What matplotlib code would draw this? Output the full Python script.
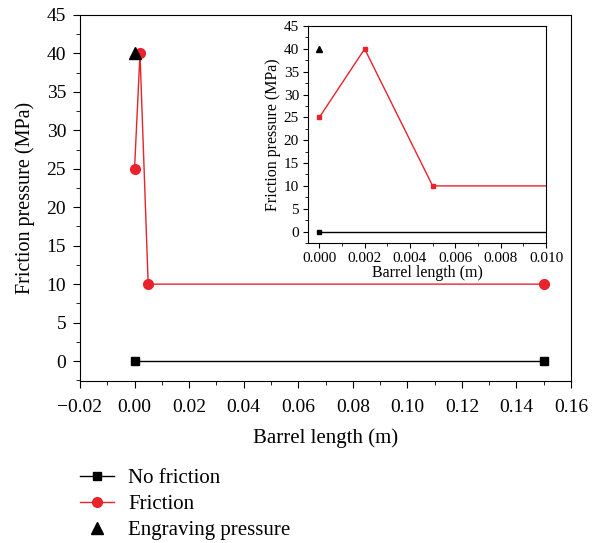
import matplotlib
matplotlib.use("Agg")
import matplotlib.pyplot as plt
from matplotlib.ticker import MultipleLocator, AutoMinorLocator

plt.rcParams['font.family'] = ['Liberation Serif', 'DejaVu Serif']

# data
nofric_x = [0.0, 0.15]
nofric_y = [0, 0]
fric_x = [0.0, 0.002, 0.005, 0.15]
fric_y = [25, 40, 10, 10]
engr_x = [0.0]
engr_y = [40]

RED = '#e8232b'

fig = plt.figure(figsize=(6, 5.43), dpi=100)
ax = fig.add_axes([0.1333, 0.2983, 0.8184, 0.6741])

l1, = ax.plot(nofric_x, nofric_y, color='black', lw=1, marker='s', ms=6, label='No friction')
l2, = ax.plot(fric_x, fric_y, color=RED, lw=1, marker='o', ms=7, label='Friction')
l3, = ax.plot(engr_x, engr_y, color='black', lw=0, marker='^', ms=8, label='Engraving pressure')

ax.set_xlim(-0.02, 0.16)
ax.set_ylim(-2.6, 45)
ax.xaxis.set_major_locator(MultipleLocator(0.02))
ax.yaxis.set_major_locator(MultipleLocator(5))
ax.xaxis.set_minor_locator(AutoMinorLocator(2))
ax.yaxis.set_minor_locator(AutoMinorLocator(2))
ax.xaxis.set_major_formatter(plt.FuncFormatter(lambda v, p: f'{v:.2f}'.replace('-', '\u2212')))
ax.tick_params(which='both', direction='out', labelsize=14, top=False, right=False)
ax.tick_params(axis='x', pad=8)
ax.tick_params(axis='y', pad=5)
ax.tick_params(which='major', length=5)
ax.tick_params(which='minor', length=3)
ax.set_xlabel('Barrel length (m)', fontsize=15, labelpad=9)
ax.set_ylabel('Friction pressure (MPa)', fontsize=14.5, labelpad=8)

# inset
ins = fig.add_axes([0.5133, 0.5525, 0.3967, 0.3995])
ins.plot(nofric_x, nofric_y, color='black', lw=1, marker='s', ms=3.5)
ins.plot(fric_x, fric_y, color=RED, lw=1, marker='s', ms=3.5)
ins.plot(engr_x, engr_y, color='black', lw=0, marker='^', ms=4)
ins.set_xlim(-0.0005, 0.010)
ins.set_ylim(-2.5, 45)
ins.xaxis.set_major_locator(MultipleLocator(0.002))
ins.yaxis.set_major_locator(MultipleLocator(5))
ins.xaxis.set_minor_locator(AutoMinorLocator(2))
ins.yaxis.set_minor_locator(AutoMinorLocator(2))
ins.xaxis.set_major_formatter(plt.FuncFormatter(lambda v, p: f'{v:.3f}'))
ins.tick_params(which='both', direction='out', labelsize=11, top=False, right=False, pad=3)
ins.tick_params(which='major', length=3.5)
ins.tick_params(which='minor', length=2)
ins.set_xlabel('Barrel length (m)', fontsize=11.5, labelpad=0)
ins.set_ylabel('Friction pressure (MPa)', fontsize=11.5, labelpad=2)

fig.legend(handles=[l1, l2, l3], loc='upper left', bbox_to_anchor=(0.12, 0.152),
           frameon=False, fontsize=15, handlelength=1.6, handletextpad=0.7,
           labelspacing=0.3, borderaxespad=0)

fig.savefig('out.png', dpi=100)
